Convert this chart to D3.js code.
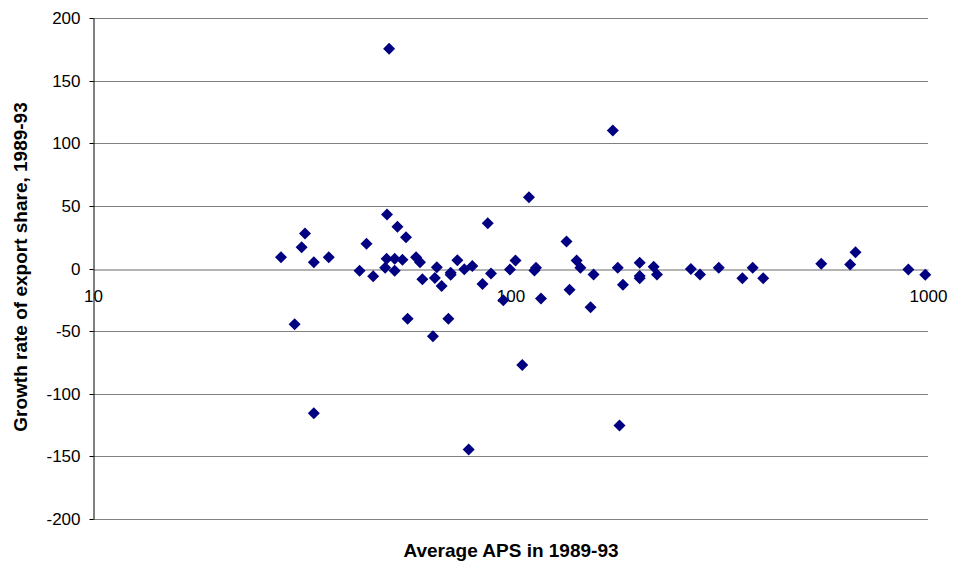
<!DOCTYPE html>
<html>
<head>
<meta charset="utf-8">
<script src="https://cdn.jsdelivr.net/npm/d3@7"></script>
<style>
  body { margin: 0; background: #fff; }
  text { font-family: Arial, "Liberation Sans", sans-serif; fill: #000; }
</style>
</head>
<body>
<svg id="chart" width="953" height="569"></svg>
<script>
// Average APS 1989-93 (x) vs growth rate of export share (y)
const apsValues = [
  28.2, 32.2, 31.6, 33.8, 36.7, 30.4, 45.2, 43.5, 46.9, 50.6,
  53.6, 56.2, 50.5, 52.8, 55.1, 50.1, 52.8, 59.4, 60.7, 61.5,
  56.7, 66.6, 65.9, 68.4, 71.9, 71.9, 74.6, 77.5, 81.0, 71.0,
  65.2, 85.7, 88.2, 89.8, 96.1, 99.7, 102.8, 110.7, 114.1, 115.1,
  118.3, 106.7, 136.2, 138.5, 144.0, 147.0, 158.1, 155.5, 180.7, 185.9,
  203.9, 203.9, 203.9, 220.3, 224.3, 270.4, 284.4, 315.4, 359.3, 380.3,
  403.0, 555.1, 651.1, 670.4, 897.4, 985.1, 51.2, 175.8, 33.8, 79.4,
  182.4
];
const growthValues = [
  9, 28, 17, 5, 9, -44.5, 19.7, -1.8, -6.1, 43.1,
  33.3, 25, 7.7, 7.7, 6.9, 0.5, -1.8, 9, 5, -8.5,
  -40.2, 1, -7.5, -14, -3.3, -5, 6.6, -0.5, 2, -40.2,
  -54, -12.4, 36.2, -4, -25.3, -0.7, 6.4, 56.9, -1.6, 0.5,
  -24, -77, 21.6, -17, 6.4, 0.5, -4.8, -31, 0.5, -12.9,
  4.5, -5.9, -7.7, 1.3, -4.8, -0.3, -4.8, 0.5, -7.7, 0.5,
  -7.7, 3.7, 3.2, 13, -0.8, -5, 175.4, 110.2, -115.5, -144.5,
  -125.3
];
const xTicks = [10, 100, 1000];
const yTicks = [-200, -150, -100, -50, 0, 50, 100, 150, 200];

const points = apsValues.map((v, i) => ({ aps: v, growth: growthValues[i] }));

const svg = d3.select('#chart');
const plotLeft = 93;
const plotRight = 928;
const plotTop = 18;
const plotBottom = 519;

const x = d3.scaleLog().domain([10, 1000]).range([plotLeft, plotRight]);
const y = d3.scaleLinear().domain([-200, 200]).range([plotBottom, plotTop]);

// horizontal gridlines
svg.append('g').selectAll('line')
  .data(yTicks.filter(d => d !== 0))
  .join('line')
  .attr('x1', plotLeft).attr('x2', plotRight)
  .attr('y1', d => Math.round(y(d)) + 0.5)
  .attr('y2', d => Math.round(y(d)) + 0.5)
  .attr('stroke', '#808080')
  .attr('stroke-width', 1);

// x axis sitting on y = 0
const xAxis = svg.append('g')
  .attr('transform', `translate(0,${Math.round(y(0)) + 0.5})`)
  .call(d3.axisBottom(x).tickValues(xTicks).tickFormat(d => String(d))
    .tickSize(0).tickPadding(20));
xAxis.select('.domain').attr('stroke', '#6a6a6a');
xAxis.selectAll('text').attr('font-size', 17).style('font-family', 'Arial, "Liberation Sans", sans-serif');

// y axis (plain hyphen for negatives, like the original)
const yAxis = svg.append('g')
  .attr('transform', `translate(${plotLeft + 0.5},0)`)
  .call(d3.axisLeft(y).tickValues(yTicks).tickFormat(d => String(d))
    .tickSizeInner(4).tickSizeOuter(0).tickPadding(9));
yAxis.select('.domain').attr('stroke', '#000');
yAxis.selectAll('.tick line').attr('stroke', '#000');
yAxis.selectAll('.tick').attr('transform', d => `translate(0,${Math.round(y(d)) + 0.5})`);
yAxis.selectAll('text').attr('font-size', 17).style('font-family', 'Arial, "Liberation Sans", sans-serif');

// diamond markers
const diamond = 'M0,-6L6,0L0,6L-6,0Z';
svg.append('g').selectAll('path')
  .data(points)
  .join('path')
  .attr('d', diamond)
  .attr('transform', d => `translate(${x(d.aps)},${y(d.growth)})`)
  .attr('fill', '#000080');

// axis titles
svg.append('text')
  .attr('x', 511).attr('y', 557)
  .attr('text-anchor', 'middle')
  .attr('font-size', 19).attr('font-weight', 'bold')
  .text('Average APS in 1989-93');

svg.append('text')
  .attr('transform', 'translate(27,267) rotate(-90)')
  .attr('text-anchor', 'middle')
  .attr('font-size', 19).attr('font-weight', 'bold')
  .text('Growth rate of export share, 1989-93');
</script>
</body>
</html>
